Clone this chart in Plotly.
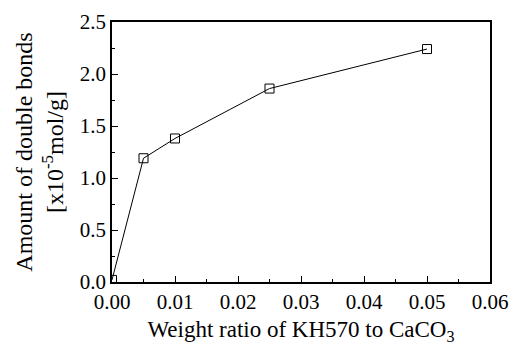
import plotly.graph_objects as go

ratio = [0.0, 0.005, 0.01, 0.025, 0.05]
double_bonds = [0.02, 1.19, 1.38, 1.86, 2.24]

font = "Liberation Serif, Times New Roman, serif"

fig = go.Figure()
fig.add_trace(go.Scatter(
    x=ratio, y=double_bonds, mode="lines+markers",
    line=dict(color="black", width=1),
    marker=dict(symbol="square-open", size=9, color="black", line=dict(width=1)),
    cliponaxis=True,
))

fig.update_layout(
    width=510, height=347,
    margin=dict(l=112, r=20, t=22, b=65),
    plot_bgcolor="white", paper_bgcolor="white",
    showlegend=False,
    font=dict(family=font, size=21, color="black"),
)
fig.update_xaxes(
    range=[0, 0.06], dtick=0.01, tickformat=".2f",
    ticks="inside", ticklen=6, tickwidth=1, tickcolor="black",
    minor=dict(dtick=0.005, ticks="inside", ticklen=3, tickcolor="black"),
    showline=True, linecolor="black", linewidth=1.5, mirror=True,
    showgrid=False, zeroline=False, automargin=False,
    title=dict(text="Weight ratio of KH570 to CaCO<sub>3</sub>", font=dict(size=23), standoff=8),
)
fig.update_yaxes(
    range=[0, 2.5], dtick=0.5, tickformat=".1f",
    ticks="inside", ticklen=6, tickwidth=1, tickcolor="black",
    minor=dict(dtick=0.25, ticks="inside", ticklen=3, tickcolor="black"),
    showline=True, linecolor="black", linewidth=1.5, mirror=True,
    showgrid=False, zeroline=False, automargin=False,
    title=dict(text="Amount of double bonds<br>[x10<sup>-5</sup>mol/g]", font=dict(size=24), standoff=9),
)

fig.write_html(
    "out.html",
    config={"displayModeBar": False},
    post_script="document.body.style.margin='0';document.body.style.overflow='hidden';",
)
